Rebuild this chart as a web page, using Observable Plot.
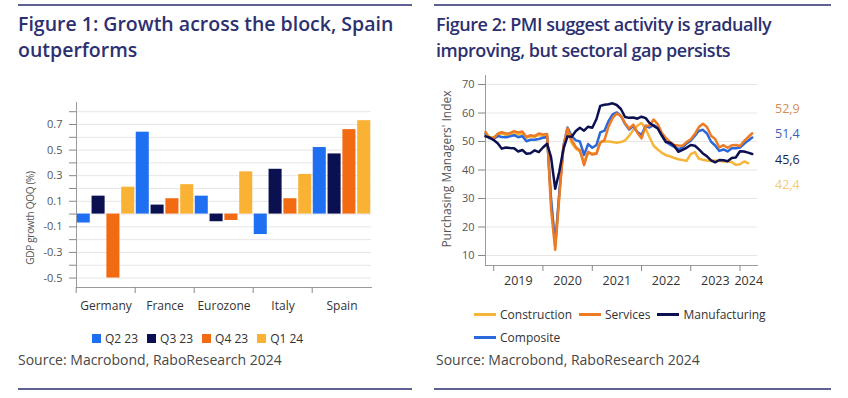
<!DOCTYPE html>
<html>
<head>
<meta charset="utf-8">
<script src="https://cdn.jsdelivr.net/npm/d3@7"></script>
<script src="https://cdn.jsdelivr.net/npm/@observablehq/plot@0.6"></script>
<style>
  html, body { margin: 0; padding: 0; background: #ffffff; }
  body { font-family: "Open Sans", "Noto Sans", sans-serif; }
  #root { position: relative; width: 848px; height: 398px; overflow: hidden; background: #ffffff; }
  .rule { position: absolute; height: 2px; background: #5f6190; }
  .title { position: absolute; font-weight: 600; line-height: 26px; color: #2d3070; white-space: nowrap; }
  .source { position: absolute; font-size: 14px; line-height: 18px; color: #474747; white-space: nowrap; }
  .ytitle { position: absolute; color: #555; white-space: nowrap; transform: translate(-50%, -50%) rotate(-90deg); }
  .legend { position: absolute; display: flex; align-items: center; font-size: 12px; color: #333; white-space: nowrap; }
  .legend .item { display: flex; align-items: center; margin-right: 9px; }
  .legend .sq { width: 9px; height: 9px; margin-right: 4px; }
  .legend .ln { width: 22px; height: 3px; margin-right: 4px; }
  .plot { position: absolute; }
  .vlabels { position: absolute; font-size: 12.5px; line-height: 25.4px; }
</style>
</head>
<body>
<div id="root">
  <div class="rule" style="left:18px; top:4px; width:394px;"></div>
  <div class="rule" style="left:434px; top:4px; width:397px;"></div>
  <div class="title" style="left:18px; top:11px; font-size:19.5px;">Figure 1: Growth across the block, Spain<br>outperforms</div>
  <div class="title" style="left:436px; top:11px; font-size:18px; letter-spacing:-0.45px;">Figure 2: PMI suggest activity is gradually<br>improving, but sectoral gap persists</div>
  <div id="leftPlot" class="plot" style="left:0px; top:95px;"></div>
  <div id="rightPlot" class="plot" style="left:424px; top:70px;"></div>
  <div class="ytitle" style="left:30px; top:218px; font-size:10px; letter-spacing:-0.3px;">GDP growth QOQ (%)</div>
  <div class="ytitle" style="left:446px; top:169px; font-size:12px;">Purchasing Managers' Index</div>
  <div id="leftLegend" class="legend" style="left:92px; top:330px; height:16px;"></div>
  <div id="rightLegend1" class="legend" style="left:474px; top:306px; height:16px;"></div>
  <div id="rightLegend2" class="legend" style="left:474px; top:329px; height:16px;"></div>
  <div id="vlabels" class="vlabels" style="left:775px; top:96px;"></div>
  <div class="source" style="left:18px; top:351px;">Source: Macrobond, RaboResearch 2024</div>
  <div class="source" style="left:436px; top:351px;">Source: Macrobond, RaboResearch 2024</div>
  <div class="rule" style="left:18px; top:388px; width:394px;"></div>
  <div class="rule" style="left:434px; top:388px; width:397px;"></div>
</div>
<script>
// ---------- Figure 1 data ----------
const countries = ["Germany", "France", "Eurozone", "Italy", "Spain"];
const quarters = ["Q2 23", "Q3 23", "Q4 23", "Q1 24"];
const gdpQ2_23 = [-0.07, 0.64, 0.14, -0.16, 0.52];
const gdpQ3_23 = [0.14, 0.07, -0.06, 0.35, 0.47];
const gdpQ4_23 = [-0.50, 0.12, -0.05, 0.12, 0.66];
const gdpQ1_24 = [0.21, 0.23, 0.33, 0.31, 0.73];
const gdpColors = ["#1f6ff2", "#0b1050", "#f26a12", "#f9b234"];
const gdpTicks = [-0.5, -0.4, -0.3, -0.2, -0.1, 0, 0.1, 0.2, 0.3, 0.4, 0.5, 0.6, 0.7, 0.8];
const gdpTickLabels = ["-0.5", "", "-0.3", "", "-0.1", "", "0.1", "", "0.3", "", "0.5", "", "0.7", ""];

// ---------- Figure 2 data (monthly, first month Nov 2018) ----------
const pmiFirstMonth = "2018-11-01";
const construction = [
  52.0, 51.5,
  51.5, 52.5, 52.8, 52.3, 52.4, 52.8, 52.5, 52.6, 51.3, 51.8, 51.6, 52.3,
  52.0, 52.0, 30.0, 14.0, 31.5, 47.5, 53.5, 49.5, 47.5, 46.5, 43.0, 46.0,
  45.8, 46.0, 49.8, 50.0, 50.0, 49.8, 49.6, 49.8, 50.4, 52.0, 54.0, 55.5,
  56.5, 54.5, 51.5, 48.5, 47.2, 46.0, 45.2, 44.8, 44.2, 43.8, 43.5, 43.2,
  45.6, 46.3, 44.0, 43.6, 43.3, 43.2, 43.3, 43.2, 43.0, 43.0, 42.8, 41.8,
  42.0, 43.0, 42.4
];
const services = [
  53.4, 51.2,
  51.2, 52.8, 53.3, 52.8, 52.9, 53.6, 53.2, 53.5, 51.6, 52.2, 51.9, 52.8,
  52.5, 52.6, 26.4, 12.0, 30.5, 48.3, 54.7, 50.5, 48.0, 46.9, 41.7, 46.4,
  45.4, 45.7, 49.6, 50.5, 55.2, 58.3, 59.8, 59.0, 56.4, 54.6, 55.9, 53.1,
  51.1, 55.5, 55.6, 57.7, 56.1, 53.0, 51.2, 49.8, 48.8, 48.6, 48.5, 49.8,
  50.8, 52.7, 55.0, 56.2, 55.1, 52.0, 50.9, 47.9, 48.7, 47.8, 48.7, 48.8,
  48.4, 50.2, 51.5, 52.9
];
const manufacturing = [
  51.8, 51.4,
  50.5, 49.3, 47.5, 47.9, 47.7, 47.6, 46.5, 47.0, 45.7, 45.9, 46.9, 46.3,
  47.9, 49.2, 44.5, 33.4, 39.4, 47.4, 51.8, 51.7, 53.7, 54.8, 53.8, 55.2,
  54.8, 57.9, 62.5, 62.9, 63.1, 63.4, 62.8, 61.4, 58.6, 58.3, 58.4, 58.0,
  58.7, 58.2, 56.5, 55.5, 54.6, 52.1, 49.8, 49.6, 48.4, 46.4, 47.1, 47.8,
  48.8, 48.5, 47.3, 45.8, 44.8, 43.4, 42.7, 43.5, 43.4, 43.1, 44.2, 44.4,
  46.6, 46.5, 46.1, 45.6
];
const composite = [
  52.7, 51.1,
  51.0, 51.9, 51.6, 51.5, 51.8, 52.2, 51.5, 51.9, 50.1, 50.6, 50.6, 50.9,
  51.3, 51.6, 29.7, 13.6, 31.9, 48.5, 54.9, 51.9, 50.4, 50.0, 45.3, 49.1,
  47.8, 48.8, 53.2, 53.8, 57.1, 59.5, 60.2, 59.0, 56.2, 54.2, 55.4, 53.3,
  52.3, 55.5, 54.9, 55.8, 54.8, 52.0, 49.9, 48.9, 48.1, 47.3, 47.8, 49.3,
  50.3, 52.0, 53.7, 54.1, 52.8, 49.9, 48.6, 46.7, 47.2, 46.5, 47.6, 47.6,
  47.9, 49.2, 50.3, 51.4
];
const pmiNames = ["Construction", "Services", "Manufacturing", "Composite"];
const pmiColors = ["#f5b43a", "#ef7a24", "#0c1050", "#2a68db"];
const pmiLabelColors = ["#f3cb74", "#d88c50", "#1c1e48", "#3c5fbd"];
const pmiTicks = [10, 20, 30, 40, 50, 60, 70];
const yearLabels = ["2019", "2020", "2021", "2022", "2023", "2024"];

const FONT = '"Open Sans", "Noto Sans", sans-serif';

// ---------- Figure 1 ----------
const gdpSeries = [gdpQ2_23, gdpQ3_23, gdpQ4_23, gdpQ1_24];
const gdpRows = countries.flatMap((c, i) => quarters.map((q, j) => ({country: c, quarter: q, value: gdpSeries[j][i]})));
const L = {width: 424, height: 225, ml: 74, mr: 52, mt: 7, mb: 33};
const fxStep = (L.width - L.ml - L.mr) / countries.length;

const leftPlot = Plot.plot({
  width: L.width, height: L.height,
  marginLeft: L.ml, marginRight: L.mr, marginTop: L.mt, marginBottom: L.mb,
  style: {fontFamily: FONT, fontSize: "11px", color: "#555", background: "transparent", overflow: "visible"},
  fx: {domain: countries, padding: 0, label: null},
  x: {domain: quarters, paddingInner: 0.12, paddingOuter: 0.05, round: false, axis: null},
  y: {domain: [-0.574, 0.872], label: null},
  color: {domain: quarters, range: gdpColors},
  marks: [
    Plot.gridY(gdpTicks, {stroke: "#e6e6e6", strokeOpacity: 1}),
    Plot.barY(gdpRows, {fx: "country", x: "quarter", y: "value", fill: "quarter"}),
    Plot.frame({anchor: "bottom", stroke: "#9a9a9a"}),
    Plot.frame({anchor: "left", stroke: "#9a9a9a", facetAnchor: "left"}),
    Plot.axisY(gdpTicks, {tickSize: 7, tickPadding: 7, stroke: "#888", label: null,
      tickFormat: d => gdpTickLabels[gdpTicks.indexOf(d)]}),
    Plot.axisFx({anchor: "bottom", tickSize: 6, dx: -fxStep / 2, stroke: "#888", tickFormat: () => "", label: null}),
    Plot.axisFx({anchor: "bottom", tickSize: 0, tickPadding: 14, fontSize: 12, color: "#333", label: null})
  ]
});
document.getElementById("leftPlot").appendChild(leftPlot);

// ---------- Figure 2 ----------
const start = new Date(pmiFirstMonth);
const pmiValues = [construction, services, manufacturing, composite];
const pmiRows = pmiNames.map((name, k) => pmiValues[k].map((v, i) => ({series: name, date: d3.utcMonth.offset(start, i), value: v})));
const xDomain = [new Date("2018-11-01"), new Date("2024-05-10")];
const yearStarts = yearLabels.map(y => new Date(`${y}-01-01`));
const yearLabelRows = yearLabels.map((y, i) => {
  const a = Math.max(+yearStarts[i], +xDomain[0]);
  const b = Math.min(+new Date(`${+y + 1}-01-01`), +xDomain[1]);
  return {label: y, date: new Date((a + b) / 2)};
});
const drawOrder = ["Construction", "Composite", "Services", "Manufacturing"];
const R = {width: 424, height: 225, ml: 61, mr: 91, mt: 5, mb: 30};

const rightPlot = Plot.plot({
  width: R.width, height: R.height,
  marginLeft: R.ml, marginRight: R.mr, marginTop: R.mt, marginBottom: R.mb,
  style: {fontFamily: FONT, fontSize: "11px", color: "#555", background: "transparent", overflow: "visible"},
  x: {type: "utc", domain: xDomain, label: null},
  y: {domain: [6.49, 73.16], label: null},
  color: {domain: pmiNames, range: pmiColors},
  marks: [
    Plot.gridY(pmiTicks, {stroke: "#e6e6e6", strokeOpacity: 1}),
    Plot.frame({anchor: "left", stroke: "#9a9a9a"}),
    Plot.frame({anchor: "bottom", stroke: "#9a9a9a"}),
    Plot.axisY(pmiTicks, {tickSize: 7, tickPadding: 4, stroke: "#888", label: null}),
    Plot.axisX(yearStarts, {tickSize: 6, stroke: "#888", tickFormat: () => "", label: null}),
    Plot.text(yearLabelRows, {x: "date", text: "label", frameAnchor: "bottom", dy: 19, fontSize: 12.5, fill: "#333"}),
    ...drawOrder.map(name => Plot.lineY(pmiRows[pmiNames.indexOf(name)], {
      x: "date", y: "value", stroke: "series", strokeWidth: 2.5, strokeLinejoin: "round", strokeLinecap: "round"
    }))
  ]
});
document.getElementById("rightPlot").appendChild(rightPlot);

// ---------- Legends & value labels ----------
const leftLegend = document.getElementById("leftLegend");
quarters.forEach((q, j) => {
  const it = document.createElement("div"); it.className = "item";
  it.innerHTML = `<div class="sq" style="background:${gdpColors[j]}"></div><span>${q}</span>`;
  leftLegend.appendChild(it);
});
const rl1 = document.getElementById("rightLegend1");
const rl2 = document.getElementById("rightLegend2");
pmiNames.forEach((n, k) => {
  const it = document.createElement("div"); it.className = "item";
  it.style.marginRight = "7px";
  it.innerHTML = `<div class="ln" style="background:${pmiColors[k]}"></div><span>${n}</span>`;
  (k < 3 ? rl1 : rl2).appendChild(it);
});
const vl = document.getElementById("vlabels");
pmiNames
  .map((n, k) => ({k, last: pmiValues[k][pmiValues[k].length - 1]}))
  .sort((a, b) => b.last - a.last)
  .forEach(({k, last}) => {
    const d = document.createElement("div");
    d.textContent = d3.format(".1f")(last).replace(".", ",");
    d.style.color = pmiLabelColors[k];
    vl.appendChild(d);
  });
</script>
</body>
</html>
